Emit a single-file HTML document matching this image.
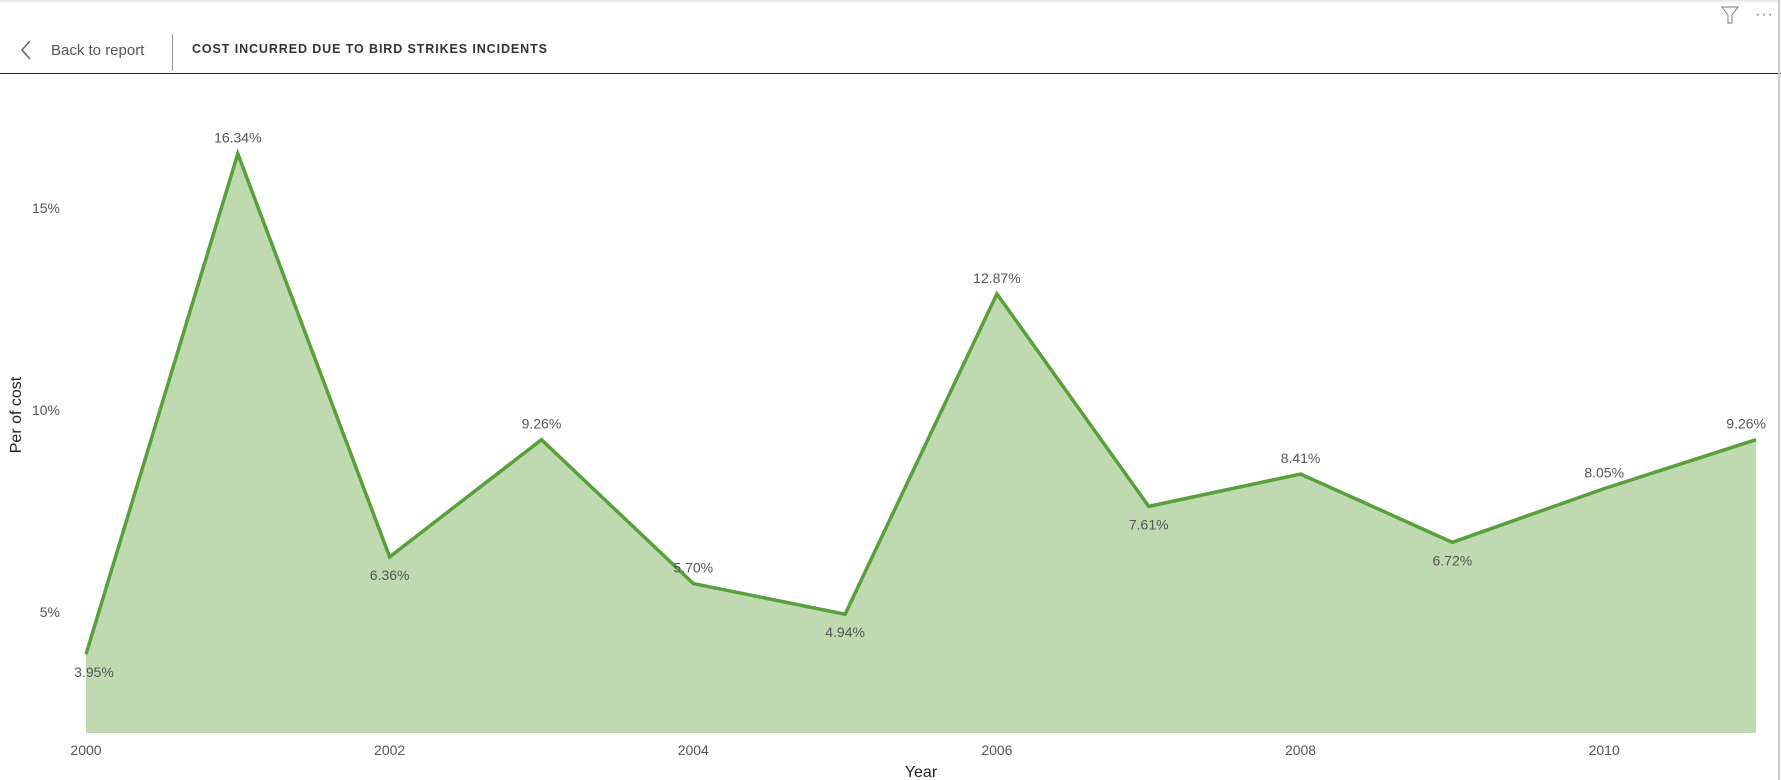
<!DOCTYPE html>
<html><head><meta charset="utf-8"><style>
body{margin:0;width:1781px;height:780px;background:#fff;overflow:hidden;font-family:"Liberation Sans",sans-serif;position:relative}
.hdr{position:absolute;left:0;top:0;width:1781px;height:74px;border-bottom:1.5px solid #222;box-sizing:border-box}
</style></head><body>
<div style="position:absolute;left:0;top:0;width:1781px;height:4px;background:linear-gradient(#e6e6e6,#fff)"></div>
<div class="hdr">
 <div style="position:absolute;left:18px;top:38px;height:24px;display:flex;align-items:center;color:#555;font-size:15px">
  <svg width="16" height="24"><path d="M12 3 L4 12 L12 21" fill="none" stroke="#666" stroke-width="1.6"/></svg>
  <span style="margin-left:17px">Back to report</span></div>
 <div style="position:absolute;left:172px;top:34px;width:1px;height:37px;background:#999"></div>
 <div style="position:absolute;left:192px;top:42px;font-size:12.5px;font-weight:bold;color:#333;letter-spacing:0.9px">COST INCURRED DUE TO BIRD STRIKES INCIDENTS</div>
 <svg style="position:absolute;left:1720px;top:5px" width="20" height="20"><path d="M2 2 H18 L12 10 V18 H8 V10 Z" fill="none" stroke="#777" stroke-width="1"/></svg>
 <div style="position:absolute;left:1755px;top:6px;font-size:16px;color:#777;letter-spacing:1px">···</div>
</div>
<div style="position:absolute;left:1778px;top:0;width:2px;height:780px;background:#ccc"></div>
<svg id="c" width="1781" height="780" style="position:absolute;left:0;top:0"></svg>
<script>
const years=[2000,2001,2002,2003,2004,2005,2006,2007,2008,2009,2010,2011];
const values=[3.95,16.34,6.36,9.26,5.70,4.94,12.87,7.61,8.41,6.72,8.05,9.26];
const labelPos=["below","above","below","above","above","below","above","below","above","below","above","above"];
const yTicks=[5,10,15];
const xTicks=[2000,2002,2004,2006,2008,2010];
const NS="http://www.w3.org/2000/svg",svg=document.getElementById('c');
const x0=86,x1=1756,yMin=2,yMax=17.1,yb=733,yt=123;
const X=v=>x0+(v-2000)*(x1-x0)/11;
const Y=v=>yb-(v-yMin)*(yb-yt)/(yMax-yMin);
function el(t,a,p){const e=document.createElementNS(NS,t);for(const k in a)e.setAttribute(k,a[k]);(p||svg).appendChild(e);return e;}
let pts=years.map((y,i)=>X(y)+','+Y(values[i]));
const area=el('polygon',{points:X(years[0])+','+yb+' '+pts.join(' ')+' '+X(years[years.length-1])+','+yb,fill:'#bfdab1'});


const line=el('polyline',{points:pts.join(' '),fill:'none',stroke:'#57a03a','stroke-width':3.5,'stroke-linejoin':'miter'});


years.forEach((y,i)=>{
 const last=i===years.length-1;
 const first=i===0;
 const t=el('text',{x:last?X(y)+10:(first?X(y)+8:X(y)),y:labelPos[i]==='above'?Y(values[i])-11:Y(values[i])+23,'text-anchor':last?'end':'middle','font-size':14,fill:'#555','font-family':'Liberation Sans,sans-serif'});
 t.textContent=values[i].toFixed(2)+'%';
 
 
});
yTicks.forEach(v=>{
 const t=el('text',{x:60,y:Y(v)+5,'text-anchor':'end','font-size':14,fill:'#555','font-family':'Liberation Sans,sans-serif'});
 t.textContent=v+'%';
 
 
});
xTicks.forEach(v=>{
 const t=el('text',{x:X(v),y:755,'text-anchor':'middle','font-size':14,fill:'#555','font-family':'Liberation Sans,sans-serif'});
 t.textContent=v;
 
 
});
const xt=el('text',{x:921,y:777,'text-anchor':'middle','font-size':16,fill:'#222','font-family':'Liberation Sans,sans-serif'});
xt.textContent='Year';


const yt2=el('text',{x:0,y:0,transform:'translate(21,415) rotate(-90)','text-anchor':'middle','font-size':16,fill:'#222','font-family':'Liberation Sans,sans-serif'});
yt2.textContent='Per of cost';


</script>
</body></html>
